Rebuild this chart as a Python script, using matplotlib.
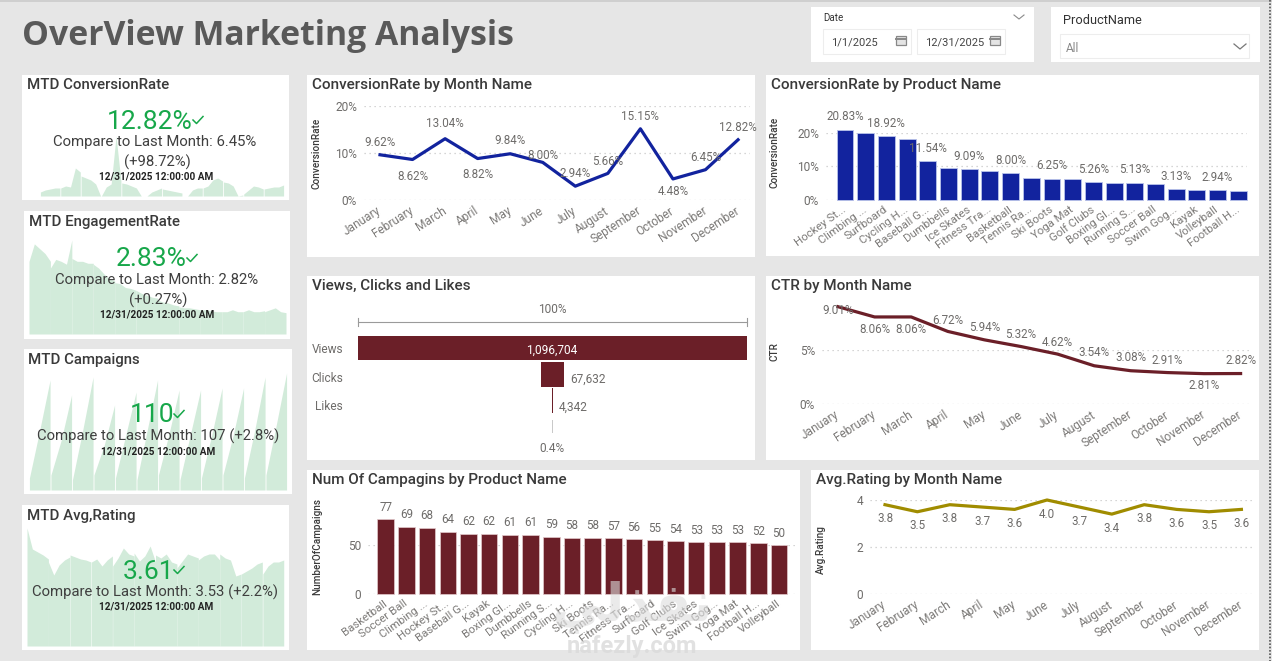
import numpy as np
import matplotlib
matplotlib.use("Agg")
import matplotlib.pyplot as plt
from matplotlib.patches import Rectangle

months = ["January","February","March","April","May","June","July","August","September","October","November","December"]
conv_month = [9.62,8.62,13.04,8.82,9.84,8.00,2.94,5.66,15.15,4.48,6.45,12.82]
ctr_month = [9.01,8.06,8.06,6.72,5.94,5.32,4.62,3.54,3.08,2.91,2.81,2.82]
rating_month = [3.8,3.5,3.8,3.7,3.6,4.0,3.7,3.4,3.8,3.6,3.5,3.6]

conv_products = ["Hockey St...","Climbing ...","Surfboard","Cycling H...","Baseball G...","Dumbbells","Ice Skates","Fitness Tra...","Basketball","Tennis Ra...","Ski Boots","Yoga Mat","Golf Clubs","Boxing Gl...","Running S...","Soccer Ball","Swim Gog...","Kayak","Volleyball","Football H..."]
conv_values = [20.83,19.9,18.92,18.2,11.54,9.4,9.09,8.5,8.00,6.45,6.25,6.25,5.26,5.2,5.13,4.9,3.13,3.1,2.94,2.8]

camp_products = ["Basketball","Soccer Ball","Climbing ...","Hockey St...","Baseball G...","Kayak","Boxing Gl...","Dumbbells","Running S...","Cycling H...","Ski Boots","Tennis Ra...","Fitness Tra...","Surfboard","Golf Clubs","Ice Skates","Swim Gog...","Yoga Mat","Football H...","Volleyball"]
camp_values = [77,69,68,64,62,62,61,61,59,58,58,57,56,55,54,53,53,53,52,50]

funnel_names = ["Views","Clicks","Likes"]
funnel_values = [1096704,67632,4342]

spark_conv = [[4,6,7,8,8],[8,10,9,28,24],[20,18,16,12,0],[0,9,12,60,15],[13,12,10,8,0],[0,0,4,6,8],[7,6,5,4,3],[0,0,6,8,8],[8,10,16,18,15],[14,13,10,0,1],[2,6,10,9,7],[7,8,9,9,11]]
spark_eng = [[75,93,88,83,75],[68,77,75,72,97],[78,75,75,73,73],[72,68,62,57,55],[53,52,48,47,45],[45,42,40,38,37],[35,33,32,30,29],[28,27,27,26,25],[25,25,24,23,23],[23,23,25,23,23],[23,25,23,23,24],[23,25,27,23,22]]
spark_camp = [[12,60,110],[15,50,95],[10,60,113],[15,45,85],[12,55,98],[10,60,110],[15,55,100],[10,55,100],[12,55,102],[15,55,102],[12,60,113],[15,65,117]]
spark_rate = [[118,97,94,91,87],[84,71,81,86,89],[91,89,87,86,84],[84,87,80,86,90],[80,88,98,92,90],[93,85,90,100,84],[91,88,92,84,82],[78,85,92,90,88],[86,90,92,92,86],[92,88,86,70,72],[72,75,78,82,84],[72,80,84,84,86]]

GRAY = "#6E6C6A"; DARK = "#3A3A3A"; GREEN = "#17A74A"; SPARK = "#D2EBDA"
BLUE = "#12239E"; MAROON = "#6B1F28"; GOLD = "#A08C00"
FONT = ["Roboto", "DejaVu Sans"]
W, H = 1272, 661
plt.rcParams["font.family"] = FONT

fig = plt.figure(figsize=(W/100, H/100), dpi=100, facecolor="#E6E6E6")

bg = fig.add_axes([0,0,1,1], zorder=0)
bg.set_xlim(0,W); bg.set_ylim(H,0); bg.axis("off")

def card(x0,y0,x1,y1):
    bg.add_patch(Rectangle((x0,y0),x1-x0,y1-y0,fc="white",ec="none"))

def T(x,y,s,size=9,color=GRAY,ha="center",va="center",**kw):
    return fig.text(x/W,1-y/H,s,fontsize=size,color=color,ha=ha,va=va,zorder=10,**kw)

def axpx(x0,y0,x1,y1,z=2):
    a = fig.add_axes([x0/W,1-y1/H,(x1-x0)/W,(y1-y0)/H],zorder=z)
    a.patch.set_alpha(0)
    return a

for r in [(22,75,289,200),(24,211,290,339),(24,349,292,494),(22,505,289,650),
          (307,75,755,257),(766,75,1259,256),(307,276,755,460),(766,276,1259,460),
          (307,470,800,650),(811,470,1259,650),(811,7,1034,62),(1051,7,1260,62)]:
    card(*r)

# top band and right edge
bg.add_patch(Rectangle((0,0),W,2,fc="#CFCFCF",ec="none"))
bg.plot([1270,1270],[0,H],color="#555555",lw=1.2,ls=(0,(1,1)))

# header
T(22,36,"OverView Marketing Analysis",size=24.35,color="#595959",ha="left",family=["Open Sans","DejaVu Sans"],fontweight="bold")

# slicers
T(823,18,"Date",size=7,color="#333333",ha="left")
for x0,x1,lab in [(823,911,"1/1/2025"),(917,1005,"12/31/2025")]:
    bg.add_patch(Rectangle((x0,29),x1-x0,25,fc="white",ec="#EDEDED",lw=0.8))
    T(x0+8,42,lab,size=8,color="#444444",ha="left")
    bg.add_patch(Rectangle((x1-15,36),10,9,fc="#E4E4E4",ec="#888888",lw=0.9))
    bg.plot([x1-15,x1-5],[38.5,38.5],color="#888888",lw=1.4)
bg.plot([1014,1019,1024],[15,19,15],color="#8A8A8A",lw=0.8)
T(1063,20,"ProductName",size=9.2,color="#333333",ha="left")
bg.add_patch(Rectangle((1060,34),189,24,fc="white",ec="#EDEDED",lw=0.8))
T(1066,48,"All",size=8.5,color="#8A8A8A",ha="left")
bg.plot([1234,1240,1246],[44,49,44],color="#777777",lw=0.9)

# KPI cards
def spark(rect,months_data,top,gap=0.02,gap_months=None):
    a = axpx(*rect,z=1)
    for i,m in enumerate(months_data):
        g = gap if gap_months is None or i in gap_months else 0
        a.fill_between(i+np.linspace(g,1-g,len(m)),m,color=SPARK,lw=0)
    a.set_xlim(0,12); a.set_ylim(0,top); a.axis("off")

spark((40,136,284,196),spark_conv,60)
spark((29,240,286,334),spark_eng,97,gap=0)
spark((29,373,287,490),spark_camp,117)
spark((27,528,284,646),spark_rate,118,gap=0.012,gap_months={2,3,10,11})

bg_top = axpx(0,0,W,H,z=5); bg_top.set_xlim(0,W); bg_top.set_ylim(H,0); bg_top.axis("off")

def check(x,y):
    bg_top.plot([x-5,x-1.5,x+5],[y,y+3.5,y-3.5],color=GREEN,lw=1.1)

def kpi(title,tx,ty,val,vx,vy,lines,dy):
    T(tx,ty+1,title,size=10.8,color=DARK,ha="left",fontweight=500)
    T(vx,vy+1,val,size=19,color=GREEN)
    for (lx,ly,s) in lines:
        T(lx,ly+1,s,size=10.7,color="#3F3F3F")
    T(dy[0],dy[1]+0.5,"12/31/2025 12:00:00 AM",size=7.2,color="#222222",fontweight="bold")

kpi("MTD ConversionRate",27,84,"12.82%",150,121,[(155,141,"Compare to Last Month: 6.45%"),(157,161,"(+98.72%)")],(156,176))
check(198,120)
kpi("MTD EngagementRate",29,221,"2.83%",151,258,[(157,279,"Compare to Last Month: 2.82%"),(158,299,"(+0.27%)")],(157,314))
check(192,258)
kpi("MTD Campaigns",28,359,"110",152,414,[(158,435,"Compare to Last Month: 107 (+2.8%)")],(158,451))
check(179,414)
kpi("MTD Avg,Rating",27,515,"3.61",149,571,[(155,591,"Compare to Last Month: 3.53 (+2.2%)")],(156,606))
check(179,570)

def style(a):
    for s in a.spines.values(): s.set_visible(False)
    a.tick_params(length=0,labelsize=8.6,labelcolor=GRAY,pad=5)
    a.grid(axis="y",color="#C8C8C8",ls=(0,(1,3)),lw=0.9)
    a.set_axisbelow(True)

def catax(x_left,x_right,first,step,y_zero,y_top,vtop,labels,yticks,yfmt,rot=33,rot_size=8.6,pad=7):
    a = axpx(x_left,y_top,x_right,y_zero)
    a.set_xlim((x_left-first)/step,(x_right-first)/step)
    a.set_ylim(0,vtop)
    style(a)
    a.set_xticks(range(len(labels)))
    a.set_xticklabels(labels,rotation=rot,ha="right",va="center",rotation_mode="anchor",fontsize=rot_size,color="#7C7A78")
    a.tick_params(axis="x",pad=pad)
    a.set_yticks(yticks); a.set_yticklabels([yfmt(t) for t in yticks])
    return a

def labels(a,vals,dys,fmt):
    for i,(v,d) in enumerate(zip(vals,dys)):
        if d is None: continue
        a.annotate(fmt(v),(i,v),xytext=(0,-d*0.72),textcoords="offset points",ha="center",va="center",fontsize=8.4,color=GRAY,annotation_clip=False)

pct = lambda v: f"{v:.2f}%"
tick_pct = lambda t: f"{t}%"
TITLE = 11
AXT = dict(size=7.2,color=DARK,rotation=90,fontweight=500)

# ConversionRate by month
T(312,85,"ConversionRate by Month Name",size=TITLE,color=DARK,ha="left",fontweight=500)
T(316,153,"ConversionRate",**AXT)
a = catax(364,750,380,32.55,200,106,20,months,[0,10,20],tick_pct)
a.plot(range(12),conv_month,color=BLUE,lw=2.3,clip_on=False)
labels(a,conv_month,[-12,17,-15,16,-13,-7,-13,-12,-12,13,-12,-12],pct)

# ConversionRate by product
T(771,85,"ConversionRate by Product Name",size=TITLE,color=DARK,ha="left",fontweight=500)
T(775,152.5,"ConversionRate",**AXT)
a = catax(826,1247,845,20.7,200,132.7,20,conv_products,[0,10,20],tick_pct,rot=36,rot_size=8.2,pad=6)
a.bar(range(20),conv_values,width=0.82,color=BLUE,edgecolor="#B9C3EA",lw=0.6,clip_on=False)
labels(a,conv_values,[-13 if i%2==0 else None for i in range(20)],pct)

# Funnel
T(312,286,"Views, Clicks and Likes",size=TITLE,color=DARK,ha="left",fontweight=500)
a = axpx(358,335,747,440)
half = funnel_values[0]/2
a.set_xlim(-half,half); a.set_ylim(3.5,-0.5); a.axis("off")
a.barh(range(3),funnel_values,left=[-v/2 for v in funnel_values],height=0.93,color=MAROON)
a.barh([3],funnel_values[2:],left=[-funnel_values[2]/2],height=0.5,color="#C9C9C9",clip_on=False)
bg_top.plot([358,747],[322,322],color="#9A9A9A",lw=0.8)
bg_top.plot([358,358],[318,326],color="#9A9A9A",lw=0.8)
bg_top.plot([747,747],[318,326],color="#9A9A9A",lw=0.8)
T(552,310,"100%",size=8.6)
for n,y in zip(funnel_names,[349,378,406]):
    T(343,y,n,size=8.6,ha="right")
T(552,350,f"{funnel_values[0]:,}",size=8.6,color="white")
T(570,379,f"{funnel_values[1]:,}",size=8.6,ha="left")
T(559,407,f"{funnel_values[2]:,}",size=8.6,ha="left")
T(552,448,"0.4%",size=8.6)

# CTR
T(771,286,"CTR by Month Name",size=TITLE,color=DARK,ha="left",fontweight=500)
T(775,352,"CTR",**AXT)
a = catax(822,1252,838,36.6,404,350,5,months,[0,5],tick_pct)
a.plot(range(12),ctr_month,color=MAROON,lw=2.3,clip_on=False)
labels(a,ctr_month,[4,13,13,-11,-12,-12,-12,-13,-13,-12,12,-13],pct)

# Campaigns
T(312,480,"Num Of Campagins by Product Name",size=TITLE,color=DARK,ha="left",fontweight=500)
T(317,546.5,"NumberOfCampaigns",**AXT)
a = catax(368,795,385.7,20.7,594,545.3,50,camp_products,[0,50],str,rot=36,rot_size=8.2,pad=6)
a.bar(range(20),camp_values,width=0.8,color=MAROON,edgecolor="#E3C9CC",lw=0.5,clip_on=False)
labels(a,camp_values,[-12]*20,str)

# Rating
T(816,480,"Avg.Rating by Month Name",size=TITLE,color=DARK,ha="left",fontweight=500)
T(821,550,"Avg.Rating",**AXT)
a = catax(870,1252,885,32.4,594,500,4,months,[0,2,4],str)
a.plot(range(12),rating_month,color=GOLD,lw=2.3,clip_on=False)
labels(a,rating_month,[14]*12,lambda v:f"{v:.1f}")

# watermark
T(632,646,"nafezly.com",size=17,color="#DADADA",alpha=0.8,fontweight="bold")
T(632,607,"\ufef2\ufedf\ufeac\ufed4\ufee7",size=38,color="#DCDCDC",alpha=0.6,family=["DejaVu Sans"],fontweight="bold")

fig.savefig("out.png",dpi=100,facecolor=fig.get_facecolor())
